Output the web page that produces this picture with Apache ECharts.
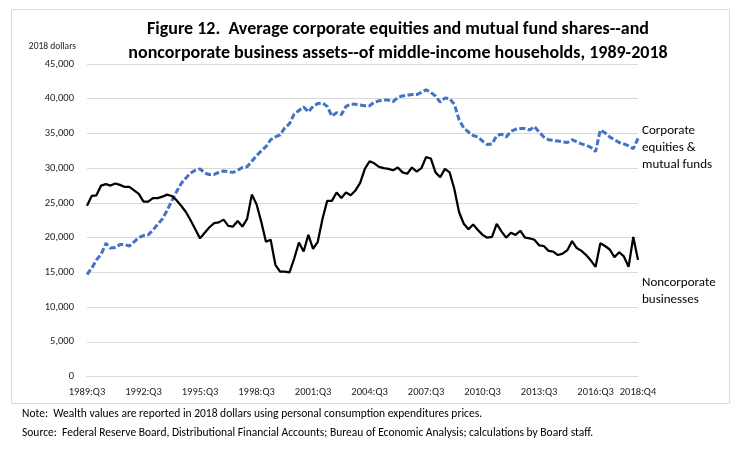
<!DOCTYPE html>
<html>
<head>
<meta charset="utf-8">
<script src="https://cdn.jsdelivr.net/npm/echarts@6/dist/echarts.min.js"></script>
<style>
html,body{margin:0;padding:0;background:#fff;}
#chart{width:742px;height:455px;}
</style>
</head>
<body>
<div id="chart"></div>
<script>
// Quarter range 1989:Q3 .. 2018:Q4
const startYear = 1989, startQuarter = 3, quarterCount = 118;
const categories = [];
for (let k = 0; k < quarterCount; k++) {
  const q = startQuarter - 1 + k;
  categories.push((startYear + Math.floor(q / 4)) + ':Q' + (q % 4 + 1));
}

const yTicks = [0, 5000, 10000, 15000, 20000, 25000, 30000, 35000, 40000, 45000];

const corporateEquities = [
  14700,15600,16800,17600,19200,18500,18600,19000,19000,18800,
  19400,20000,20300,20400,21100,21900,22700,23900,25300,26600,
  27800,28600,29300,29700,29900,29300,29100,29100,29400,29600,
  29500,29400,29700,30100,30200,31000,31800,32500,33100,34100,
  34500,34800,35800,36400,37800,38300,38800,38100,38900,39300,
  39400,38900,37500,38000,37700,38900,39200,39200,39100,39000,
  39000,39500,39700,39800,39800,39600,40200,40400,40500,40600,
  40600,40900,41300,40900,40400,39500,40100,40000,39200,37000,
  35800,35200,34700,34500,33900,33400,33500,34700,34900,34500,
  35300,35600,35700,35700,35500,36000,35200,34500,34100,34000,
  33900,33800,33700,34100,33800,33500,33300,33000,32400,35500,
  35100,34500,34100,33700,33500,33200,32800,34300
];

const noncorporateBusiness = [
  24600,26000,26100,27500,27700,27500,27800,27600,27300,27300,
  26800,26300,25200,25200,25700,25700,25900,26200,26000,25400,
  24600,23700,22500,21200,19900,20700,21500,22100,22200,22600,
  21700,21600,22400,21600,22700,26200,24800,22300,19400,19700,
  16100,15100,15100,15000,17000,19300,18000,20400,18400,19400,
  22700,25300,25300,26500,25700,26500,26100,26800,27900,29900,
  31000,30700,30200,30000,29900,29700,30100,29400,29200,30100,
  29500,30000,31600,31400,29400,28700,29900,29400,27000,23700,
  22000,21200,21900,21100,20400,20000,20100,22000,20900,20000,
  20700,20400,21000,20000,19900,19700,18900,18800,18100,18000,
  17500,17700,18200,19500,18500,18100,17500,16700,15800,19200,
  18800,18300,17200,17900,17300,15800,20100,16800
];

const FONT = 'Carlito, Lato, sans-serif';
const chart = echarts.init(document.getElementById('chart'), null, {renderer: 'canvas'});

chart.setOption({
  backgroundColor: '#fff',
  animation: false,
  title: {
    text: 'Figure 12.  Average corporate equities and mutual fund shares--and\nnoncorporate business assets--of middle-income households, 1989-2018',
    left: 393, top: 12, textAlign: 'center',
    textStyle: {fontFamily: FONT, fontSize: 18, fontWeight: 'bold', color: '#000', lineHeight: 24}
  },
  grid: {left: 87, right: 104, top: 64, bottom: 78.4, containLabel: false},
  xAxis: {
    type: 'category',
    data: categories,
    boundaryGap: false,
    axisLine: {show: true, lineStyle: {color: '#D9D9D9', width: 1}},
    axisTick: {show: false},
    axisLabel: {
      interval: function (i) { return i % 12 === 0 || i === quarterCount - 1; },
      margin: 10, fontFamily: FONT, fontSize: 10.5, color: '#222', hideOverlap: false
    },
    splitLine: {show: false}
  },
  yAxis: {
    type: 'value',
    min: yTicks[0], max: yTicks[yTicks.length - 1], interval: 5000,
    name: '2018 dollars',
    nameLocation: 'end',
    nameGap: 12,
    nameTextStyle: {fontFamily: FONT, fontSize: 9.5, color: '#222', align: 'right', padding: [0, 11, 0, 0]},
    axisLine: {show: false},
    axisTick: {show: false},
    axisLabel: {
      margin: 13, fontFamily: FONT, fontSize: 10.5, color: '#222',
      formatter: function (v) { return v.toLocaleString('en-US'); }
    },
    splitLine: {show: true, lineStyle: {color: '#D9D9D9', width: 1}}
  },
  series: [
    {
      name: 'Corporate equities & mutual funds',
      type: 'line',
      data: corporateEquities,
      symbol: 'none',
      lineStyle: {color: '#4472C4', width: 3, type: [6, 2.5]},
      z: 3
    },
    {
      name: 'Noncorporate businesses',
      type: 'line',
      data: noncorporateBusiness,
      symbol: 'none',
      lineStyle: {color: '#000', width: 2.25},
      z: 4
    }
  ],
  graphic: [
    {type: 'rect', shape: {x: 11.5, y: 9.5, width: 718, height: 394}, style: {fill: 'none', stroke: '#D9D9D9', lineWidth: 1}, silent: true},
    {type: 'text', left: 642, top: 122, style: {text: 'Corporate\nequities &\nmutual funds', font: '13px ' + FONT, fill: '#000', lineHeight: 17}},
    {type: 'text', left: 642, top: 274, style: {text: 'Noncorporate\nbusinesses', font: '13px ' + FONT, fill: '#000', lineHeight: 17}},
    {type: 'text', left: 22, top: 408, style: {text: 'Note:  Wealth values are reported in 2018 dollars using personal consumption expenditures prices.', font: '11.5px ' + FONT, fill: '#000'}},
    {type: 'text', left: 22, top: 427, style: {text: 'Source:  Federal Reserve Board, Distributional Financial Accounts; Bureau of Economic Analysis; calculations by Board staff.', font: '11.5px ' + FONT, fill: '#000'}}
  ]
});
</script>
</body>
</html>
